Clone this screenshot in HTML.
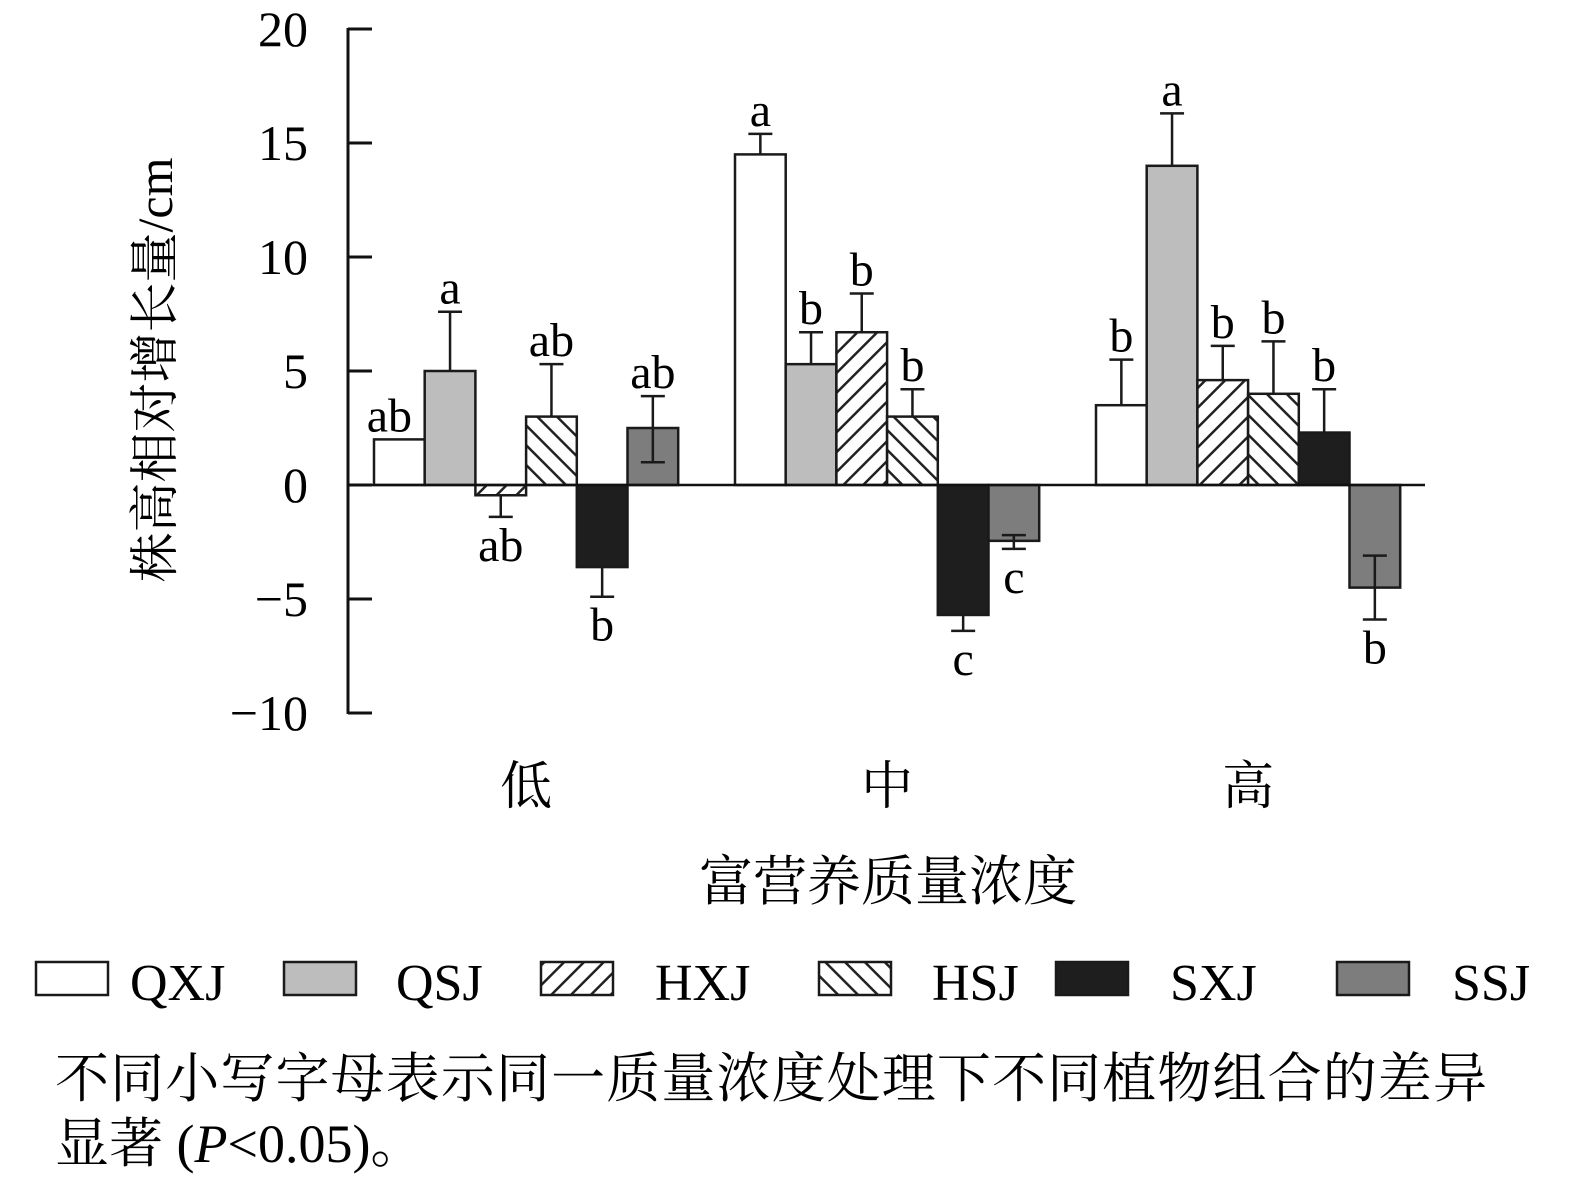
<!DOCTYPE html>
<html><head><meta charset="utf-8">
<style>
body{margin:0;background:#fff;}
svg{display:block;font-family:"Liberation Serif","Noto Serif CJK SC",serif;}
</style></head>
<body>
<svg id="c" width="1575" height="1185" xmlns="http://www.w3.org/2000/svg">
<defs>
<pattern id="fwd" patternUnits="userSpaceOnUse" width="14" height="14" patternTransform="rotate(45)"><rect width="14" height="14" fill="#fff"/><line x1="0" y1="0" x2="0" y2="14" stroke="#222" stroke-width="5"/></pattern>
<pattern id="bwd" patternUnits="userSpaceOnUse" width="14" height="14" patternTransform="rotate(-45)"><rect width="14" height="14" fill="#fff"/><line x1="0" y1="0" x2="0" y2="14" stroke="#222" stroke-width="5"/></pattern>
</defs>
<g id="plot"></g>
<text x="0" y="0" font-size="50" text-anchor="middle" transform="translate(172 370) rotate(-90)">株高相对增长量/cm</text>
<text x="888" y="900" font-size="54" text-anchor="middle">富营养质量浓度</text>
<g id="legend"></g>
<text x="55" y="1097" font-size="54" textLength="1432">不同小写字母表示同一质量浓度处理下不同植物组合的差异</text>
<text x="55" y="1162" font-size="54">显著 (<tspan font-style="italic">P</tspan>&lt;0.05)。</text>
</svg>
<script>
const groups=["低","中","高"];
const series=["QXJ","QSJ","HXJ","HSJ","SXJ","SSJ"];
const vals=[[2.0,5.0,-0.45,3.0,-3.6,2.5],[14.5,5.3,6.7,3.0,-5.7,-2.45],[3.5,14.0,4.6,4.0,2.3,-4.5]];
const errHi=[[2.0,7.6,-0.45,5.3,-3.6,3.9],[15.4,6.7,8.4,4.2,-5.7,-2.2],[5.5,16.3,6.1,6.3,4.2,-3.1]];
const errLo=[[2.0,5.0,-1.4,3.0,-4.9,1.0],[14.5,5.3,6.7,3.0,-6.4,-2.8],[3.5,14.0,4.6,4.0,2.3,-5.9]];
const letters=[["ab","a","ab","ab","b","ab"],["a","b","b","b","c","c"],["b","a","b","b","b","b"]];
const yTicks=[20,15,10,5,0,-5,-10];
const yTickLabels=["20","15","10","5","0","\u22125","\u221210"];
const fills=["#fff","#bdbdbd","url(#fwd)","url(#bwd)","#1e1e1e","#7d7d7d"];
const NS="http://www.w3.org/2000/svg";
const y=v=>485-v*22.8;
const gx=g=>374+g*361;
const bw=50.7;
const plot=document.getElementById('plot');
function mk(t,a,p){const e=document.createElementNS(NS,t);for(const k in a)e.setAttribute(k,a[k]);(p||plot).appendChild(e);return e;}
let ax=mk('line',{x1:348,y1:28,x2:348,y2:714,stroke:'#111','stroke-width':3});


yTicks.forEach((t,i)=>{
 let tk=mk('line',{x1:348,y1:y(t),x2:372,y2:y(t),stroke:'#111','stroke-width':3});
 
 
 let tl=mk('text',{x:308,y:y(t)+17,'font-size':50,'text-anchor':'end'});
 tl.textContent=yTickLabels[i];
 
 
});
groups.forEach((g,gi)=>{
 series.forEach((s,si)=>{
  const v=vals[gi][si],x=gx(gi)+si*bw;
  const r=mk('rect',{x:x,y:Math.min(y(v),y(0)),width:bw,height:Math.abs(y(v)-y(0)),fill:fills[si],stroke:'#1a1a1a','stroke-width':2.5});
  
  
  const hi=errHi[gi][si],lo=errLo[gi][si],cx=x+bw/2;
  if(hi!==lo){
   const e=mk('path',{d:`M${cx},${y(hi)}V${y(lo)}`+(hi!==v?`M${cx-12},${y(hi)}h24`:'')+(lo!==v?`M${cx-12},${y(lo)}h24`:''),stroke:'#1a1a1a','stroke-width':2.5,fill:'none'});
   
   
  }
  const neg=v<0;
  const ly=neg?y(lo)+44:y(hi)-8;
  const t=mk('text',{x:cx+(gi==0&&si==0?-10:0),y:ly,'font-size':48,'text-anchor':'middle'});
  t.textContent=letters[gi][si];
  
  
 });
 const gl=mk('text',{x:gx(gi)+3*bw,y:804,'font-size':52,'text-anchor':'middle'});
 gl.textContent=g;
 
 
});
let xa=mk('line',{x1:348,y1:485,x2:1425,y2:485,stroke:'#111','stroke-width':2.5});


const leg=document.getElementById('legend');
const lx=[36,284,541,819,1056,1337], tx=[130,396,655,932,1170,1452];
series.forEach((s,i)=>{
 const r=mk('rect',{x:lx[i],y:962,width:72,height:33,fill:fills[i],stroke:'#1a1a1a','stroke-width':2.5},leg);
 
 
 const t=mk('text',{x:tx[i],y:1000,'font-size':52},leg);
 t.textContent=s;
 
 
});
</script>
</body></html>
